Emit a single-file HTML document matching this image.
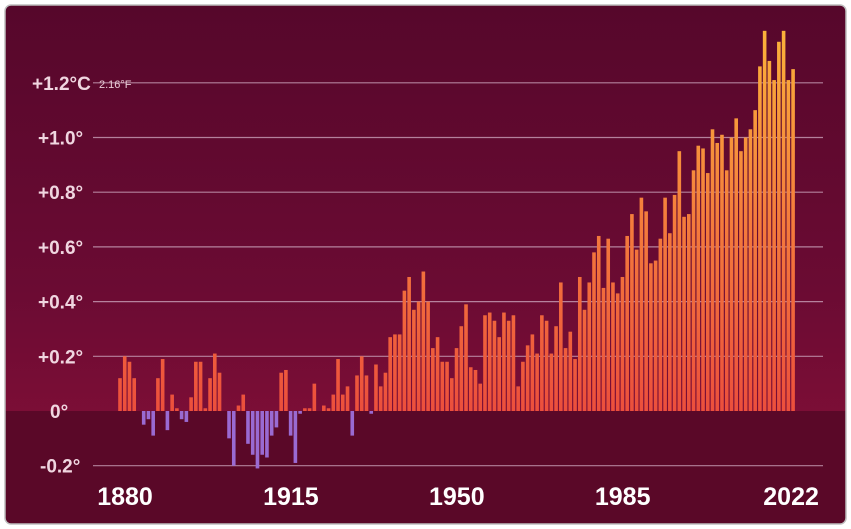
<!DOCTYPE html>
<html><head><meta charset="utf-8"><style>
body{margin:0;background:#fff;}
svg{display:block;font-family:"Liberation Sans",sans-serif;}
</style></head><body>
<svg width="851" height="529" viewBox="0 0 851 529">
<defs>
<linearGradient id="bg" x1="0" y1="0" x2="0" y2="1">
<stop offset="0" stop-color="#56072b"/><stop offset="0.55" stop-color="#6b0b33"/><stop offset="1" stop-color="#8a1038"/>
</linearGradient>
<linearGradient id="barg" gradientUnits="userSpaceOnUse" x1="0" y1="411" x2="0" y2="30">
<stop offset="0" stop-color="#ec4f3c"/><stop offset="0.5" stop-color="#f47c3c"/><stop offset="1" stop-color="#fbb23a"/>
</linearGradient>
<clipPath id="frame"><rect x="5" y="5" width="841" height="519" rx="6"/></clipPath>
</defs>
<g clip-path="url(#frame)">
<rect x="5" y="5" width="841" height="519" fill="url(#bg)"/>
<rect x="5" y="411" width="841" height="113" fill="#5a0828"/>
</g>
<rect x="5" y="5" width="841" height="519" rx="6" fill="none" stroke="#bdbdbd" stroke-width="1.5"/>
<g id="grid"></g>
<g id="bars"></g>
<g id="labels"></g>
</svg>
<script>
const years=[];for(let y=1880;y<=2022;y++)years.push(y);
const anomalies=[0.12,0.20,0.18,0.12,0.00,-0.05,-0.03,-0.09,0.12,0.19,
-0.07,0.06,0.01,-0.03,-0.04,0.05,0.18,0.18,0.01,0.12,
0.21,0.14,0.00,-0.10,-0.20,0.02,0.06,-0.12,-0.16,-0.21,
-0.16,-0.17,-0.09,-0.06,0.14,0.15,-0.09,-0.19,-0.01,0.01,
0.01,0.10,0.00,0.02,0.01,0.06,0.19,0.06,0.09,-0.09,
0.13,0.20,0.13,-0.01,0.17,0.09,0.14,0.27,0.28,0.28,
0.44,0.49,0.37,0.40,0.51,0.40,0.23,0.27,0.18,0.18,
0.12,0.23,0.31,0.39,0.16,0.15,0.10,0.35,0.36,0.33,
0.27,0.36,0.33,0.35,0.09,0.18,0.24,0.28,0.21,0.35,
0.33,0.21,0.31,0.47,0.23,0.29,0.19,0.49,0.37,0.47,
0.58,0.64,0.45,0.63,0.47,0.43,0.49,0.64,0.72,0.59,
0.78,0.73,0.54,0.55,0.63,0.78,0.65,0.79,0.95,0.71,
0.72,0.88,0.97,0.96,0.87,1.03,0.98,1.01,0.88,1.00,
1.07,0.95,1.00,1.03,1.10,1.26,1.39,1.28,1.21,1.35,1.39,1.21,1.25];
const yTicks=[-0.2,0,0.2,0.4,0.6,0.8,1.0,1.2];
const yTickLabels=["-0.2°","0°","+0.2°","+0.4°","+0.6°","+0.8°","+1.0°","+1.2°C"];
const xTicks=[1880,1915,1950,1985,2022];
const NS="http://www.w3.org/2000/svg";
const xs=y=>120+(y-1880)*4.74;
const ys=v=>411-v*273.5;
const grid=document.getElementById('grid'),bars=document.getElementById('bars'),labels=document.getElementById('labels');
yTicks.forEach((t,i)=>{
 if(t!==0){const l=document.createElementNS(NS,'line');
 l.setAttribute('x1',93);l.setAttribute('x2',823);l.setAttribute('y1',ys(t));l.setAttribute('y2',ys(t));
 l.setAttribute('stroke','#c9a0b8');l.setAttribute('stroke-width','1.2');l.setAttribute('opacity','0.8');
 
 
 grid.appendChild(l);}
 const tx=document.createElementNS(NS,'text');
 tx.setAttribute('x',t===1.2?32:(t===0?50:(t<0?40:38)));tx.setAttribute('y',ys(t)+7);
 tx.setAttribute('fill','#f0d6e0');tx.setAttribute('font-size','19');tx.setAttribute('font-weight','bold');
 tx.textContent=yTickLabels[i];
 
 
 labels.appendChild(tx);
});
const f=document.createElementNS(NS,'text');
f.setAttribute('x',99);f.setAttribute('y',ys(1.2)+5);f.setAttribute('fill','#e8cbd6');f.setAttribute('font-size','11');
f.textContent='2.16°F';


labels.appendChild(f);
years.forEach((yr,i)=>{
 const v=anomalies[i];const r=document.createElementNS(NS,'rect');
 r.setAttribute('x',xs(yr)-1.8);r.setAttribute('width',3.6);
 r.setAttribute('y',v>=0?ys(v):ys(0));r.setAttribute('height',Math.abs(ys(v)-ys(0)));
 r.setAttribute('fill',v>=0?'url(#barg)':'#9a6ad2');
 
 
 bars.appendChild(r);
});
xTicks.forEach(yr=>{
 const tx=document.createElementNS(NS,'text');
 tx.setAttribute('x',yr===2022?xs(yr)-2:xs(yr)+5);tx.setAttribute('y',505);tx.setAttribute('text-anchor','middle');
 tx.setAttribute('fill','#ffffff');tx.setAttribute('font-size','25');tx.setAttribute('font-weight','bold');
 tx.textContent=yr;
 
 
 labels.appendChild(tx);
});
</script>
</body></html>
